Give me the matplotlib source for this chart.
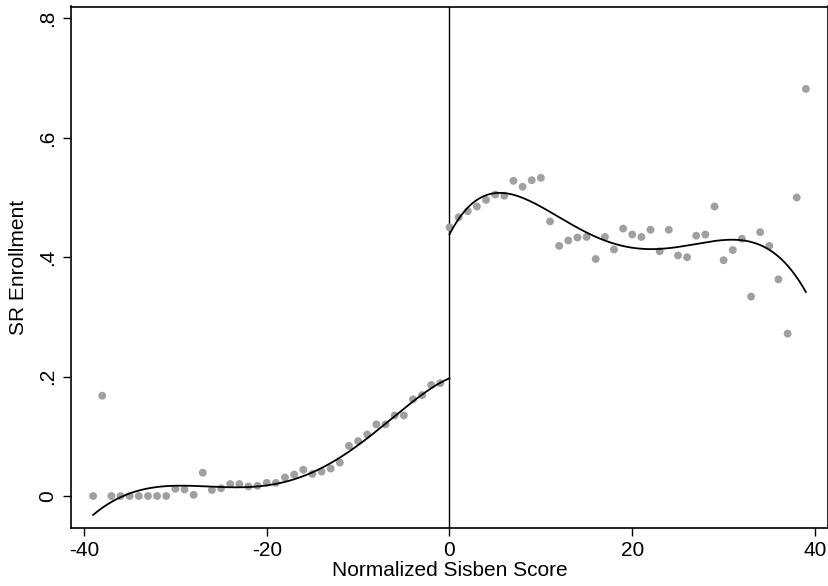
import numpy as np
import matplotlib
matplotlib.use("Agg")
import matplotlib.pyplot as plt

plt.rcParams['font.family'] = ['Liberation Sans', 'DejaVu Sans']

# Binned means, left of cutoff
x_left = [-39, -38, -37, -36, -35, -34, -33, -32, -31, -30, -29, -28, -27, -26,
          -25, -24, -23, -22, -21, -20, -19, -18, -17, -16, -15, -14, -13, -12,
          -11, -10, -9, -8, -7, -6, -5, -4, -3, -2, -1]
y_left = [0.000, 0.168, 0.000, 0.000, 0.000, 0.000, 0.000, 0.000, 0.000, 0.012,
          0.011, 0.002, 0.039, 0.010, 0.013, 0.020, 0.020, 0.016, 0.017, 0.022,
          0.022, 0.031, 0.036, 0.044, 0.037, 0.041, 0.046, 0.056, 0.084, 0.092,
          0.103, 0.120, 0.120, 0.135, 0.135, 0.162, 0.169, 0.186, 0.189]

# Binned means, right of cutoff
x_right = list(range(0, 40))
y_right = [0.450, 0.467, 0.477, 0.485, 0.496, 0.505, 0.503, 0.528, 0.518, 0.529,
           0.533, 0.460, 0.419, 0.428, 0.433, 0.434, 0.397, 0.434, 0.413, 0.448,
           0.438, 0.434, 0.446, 0.410, 0.446, 0.403, 0.400, 0.436, 0.438, 0.485,
           0.395, 0.412, 0.431, 0.334, 0.442, 0.419, 0.363, 0.272, 0.500, 0.682]

# Fitted polynomial curves (fit on underlying data)
fit_x_left = [-39, -37, -35, -33, -31, -29, -27, -25, -23, -21, -18.2, -14.2,
              -10.9, -7.3, -3.6, 0]
fit_y_left = [-0.031, -0.012, 0.005, 0.014, 0.017, 0.017, 0.015, 0.014, 0.015,
              0.017, 0.024, 0.0435, 0.077, 0.116, 0.164, 0.197]
fit_x_right = [0, 0.95, 2.55, 4.4, 6.2, 8.0, 9.8, 11.7, 13.5, 15.3, 17.1, 18.9,
               20.8, 22.2, 25.9, 29.5, 31.3, 33.1, 35.0, 36.8, 39]
fit_y_right = [0.439, 0.465, 0.487, 0.504, 0.508, 0.501, 0.489, 0.471, 0.452,
               0.437, 0.426, 0.420, 0.415, 0.413, 0.420, 0.428, 0.430, 0.426,
               0.412, 0.387, 0.343]
fit_degree = 5

x_ticks = [-40, -20, 0, 20, 40]
x_ticklabels = ['-40', '-20', '0', '20', '40']
y_ticks = [0, 0.2, 0.4, 0.6, 0.8]
y_ticklabels = ['0', '.2', '.4', '.6', '.8']

fig = plt.figure(figsize=(8.29, 5.86), dpi=100)
ax = fig.add_axes([71 / 829, 1 - 528 / 586, (828 - 71) / 829, (528 - 6.5) / 586])

ax.scatter(x_left, y_left, s=32, color='#a0a0a0', edgecolors='none', zorder=2)
ax.scatter(x_right, y_right, s=32, color='#a0a0a0', edgecolors='none', zorder=2)

cl = np.polyfit(fit_x_left, fit_y_left, fit_degree)
cr = np.polyfit(fit_x_right, fit_y_right, fit_degree)
gl = np.linspace(fit_x_left[0], fit_x_left[-1], 300)
gr = np.linspace(fit_x_right[0], fit_x_right[-1], 300)
ax.plot(gl, np.polyval(cl, gl), color='black', lw=1.3, zorder=3)
ax.plot(gr, np.polyval(cr, gr), color='black', lw=1.3, zorder=3)

ax.axvline(0, color='black', lw=1.0, zorder=1)

ax.set_xlim(-41.42, 41.42)
ax.set_ylim(-0.0536, 0.820)

ax.set_xticks(x_ticks)
ax.set_xticklabels(x_ticklabels)
ax.set_yticks(y_ticks)
ax.set_yticklabels(y_ticklabels, rotation=90, va='center')

ax.tick_params(axis='both', direction='out', length=6, width=1.0, labelsize=15, color='black')
ax.tick_params(axis='x', pad=3)
ax.tick_params(axis='y', pad=4)
for sp in ax.spines.values():
    sp.set_linewidth(1.2)
    sp.set_color('black')

ax.set_xlabel('Normalized Sisben Score', fontsize=15, labelpad=1)
ax.set_ylabel('SR Enrollment', fontsize=15, labelpad=7)

fig.savefig('out.png', dpi=100)
